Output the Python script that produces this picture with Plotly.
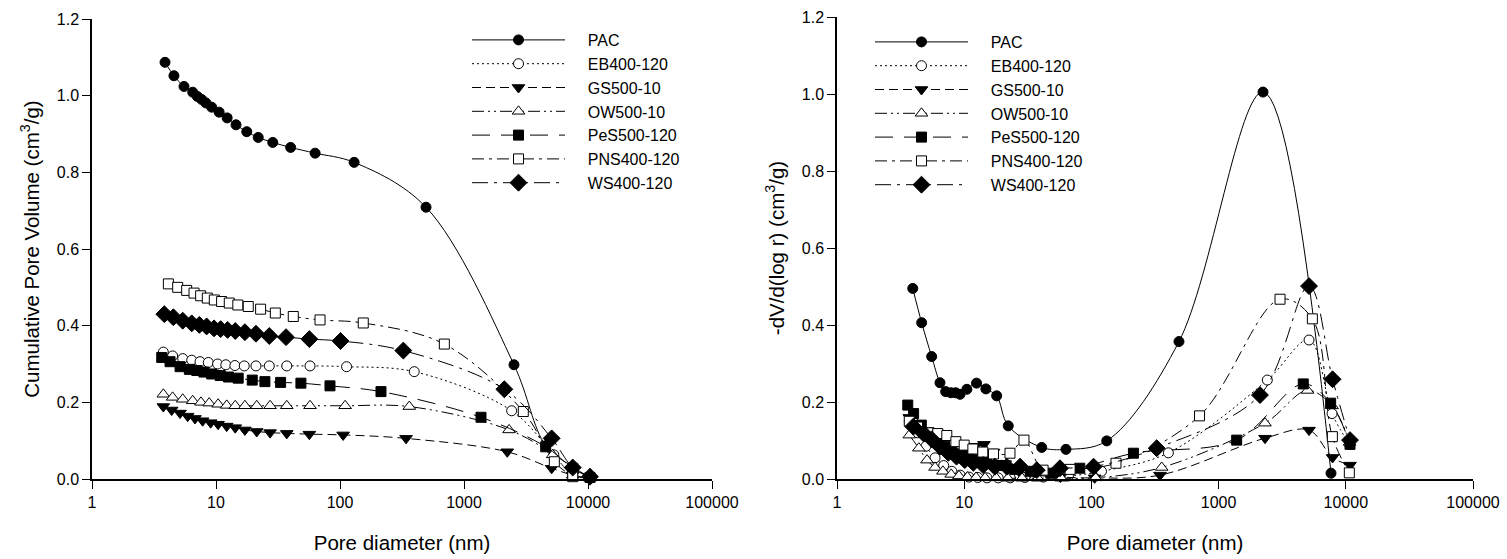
import plotly.graph_objects as go

# ---------------- data: cumulative pore volume (left panel) ----------------
series_names = ["PAC", "EB400-120", "GS500-10", "OW500-10", "PeS500-120", "PNS400-120", "WS400-120"]

pac_cum_x = [3.88, 4.58, 5.52, 6.49, 7.07, 7.67, 8.30, 9.23, 10.6, 12.3, 14.5, 17.7, 21.9, 28.7, 40, 63, 130, 494, 2530, 4560, 7530, 10380]
pac_cum_y = [1.087, 1.052, 1.024, 1.009, 0.998, 0.990, 0.981, 0.970, 0.957, 0.942, 0.924, 0.906, 0.891, 0.878, 0.865, 0.850, 0.826, 0.709, 0.298, 0.087, 0.032, 0.004]

eb_cum_x = [3.76, 4.47, 5.39, 6.37, 7.43, 8.67, 10.3, 12.0, 14.2, 16.9, 21.0, 26.9, 37.2, 57.3, 113, 397, 2422, 5300, 7530, 10380]
eb_cum_y = [0.331, 0.321, 0.314, 0.310, 0.306, 0.304, 0.300, 0.298, 0.296, 0.295, 0.295, 0.295, 0.295, 0.295, 0.293, 0.280, 0.178, 0.063, 0.010, 0.002]

gs_cum_x = [3.76, 4.39, 5.13, 5.91, 6.77, 7.80, 9.05, 10.4, 12.2, 14.3, 17.1, 21.3, 27.3, 37.2, 56.6, 106, 341, 2233, 5093, 7530, 10380]
gs_cum_y = [0.189, 0.180, 0.172, 0.164, 0.158, 0.152, 0.147, 0.143, 0.138, 0.134, 0.128, 0.124, 0.121, 0.119, 0.117, 0.115, 0.106, 0.071, 0.028, 0.010, 0.002]

ow_cum_x = [3.76, 4.47, 5.39, 6.49, 7.56, 8.81, 10.4, 12.2, 14.3, 17.1, 21.3, 27.3, 37.2, 57.3, 110, 362, 2307, 5190, 7530, 10380]
ow_cum_y = [0.221, 0.213, 0.208, 0.204, 0.200, 0.198, 0.195, 0.192, 0.191, 0.191, 0.191, 0.191, 0.191, 0.191, 0.191, 0.189, 0.128, 0.063, 0.010, 0.002]

pes_cum_x = [3.65, 4.26, 5.13, 6.10, 6.99, 8.00, 9.23, 10.8, 12.6, 15.1, 19.6, 24.8, 33.2, 48.4, 83, 214, 1371, 4560, 7530, 10380]
pes_cum_y = [0.317, 0.306, 0.293, 0.286, 0.283, 0.279, 0.274, 0.270, 0.266, 0.263, 0.258, 0.254, 0.252, 0.250, 0.243, 0.228, 0.161, 0.084, 0.028, 0.004]

pns_cum_x = [4.13, 4.91, 5.80, 6.65, 7.52, 8.51, 9.69, 11.1, 12.8, 15.0, 18.2, 22.9, 30.1, 42.0, 69, 154, 694, 3007, 5350, 7530]
pns_cum_y = [0.509, 0.500, 0.492, 0.485, 0.478, 0.472, 0.467, 0.463, 0.459, 0.454, 0.450, 0.443, 0.433, 0.424, 0.415, 0.407, 0.352, 0.176, 0.045, 0.006]

ws_cum_x = [3.83, 4.53, 5.39, 6.37, 7.34, 8.40, 9.64, 10.9, 12.4, 14.3, 17.1, 21.0, 26.9, 36.7, 56.6, 101, 324, 2115, 5093, 7530, 10380]
ws_cum_y = [0.430, 0.422, 0.413, 0.406, 0.402, 0.398, 0.393, 0.391, 0.389, 0.386, 0.383, 0.379, 0.373, 0.370, 0.365, 0.360, 0.335, 0.234, 0.106, 0.030, 0.006]

# ---------------- data: pore size distribution (right panel) ----------------
pac_psd_x = [3.94, 4.63, 5.55, 6.45, 7.15, 7.87, 8.57, 9.27, 10.5, 12.5, 14.8, 18.0, 22.2, 40.7, 63.1, 132, 488, 2234, 7650]
pac_psd_y = [0.495, 0.406, 0.318, 0.250, 0.227, 0.224, 0.224, 0.220, 0.233, 0.249, 0.234, 0.216, 0.138, 0.082, 0.077, 0.099, 0.357, 1.005, 0.015]

eb_psd_x = [3.7, 4.3, 5.0, 5.9, 6.9, 8.0, 9.3, 10.9, 12.8, 15.1, 18.5, 23, 30, 42, 66, 120, 403, 2415, 5140, 7800, 10700]
eb_psd_y = [0.150, 0.120, 0.085, 0.055, 0.035, 0.020, 0.010, 0.005, 0.004, 0.003, 0.003, 0.003, 0.004, 0.005, 0.008, 0.020, 0.068, 0.257, 0.361, 0.170, 0.090]

gs_psd_x = [3.7, 4.4, 5.1, 5.9, 6.8, 7.8, 9.0, 10.4, 12.2, 14.3, 17.0, 21.0, 27.0, 37.0, 57.0, 106, 346, 2317, 5140, 7870, 10790]
gs_psd_y = [0.160, 0.130, 0.110, 0.090, 0.080, 0.075, 0.070, 0.075, 0.085, 0.090, 0.070, 0.040, 0.020, 0.010, 0.005, 0.003, 0.010, 0.106, 0.127, 0.056, 0.036]

ow_psd_x = [3.7, 4.4, 5.1, 5.9, 6.8, 7.9, 9.1, 10.6, 12.4, 14.6, 17.8, 22, 28.5, 38, 58, 108, 357, 2317, 5000, 7800, 10700]
ow_psd_y = [0.114, 0.080, 0.049, 0.030, 0.020, 0.012, 0.008, 0.005, 0.004, 0.003, 0.003, 0.002, 0.002, 0.002, 0.002, 0.003, 0.030, 0.145, 0.230, 0.190, 0.095]

pes_psd_x = [3.6, 4.0, 4.6, 5.3, 6.1, 7.0, 8.0, 9.2, 10.8, 12.6, 15.0, 19.6, 25, 33, 48, 81, 214, 1387, 4630, 7600, 10790]
pes_psd_y = [0.192, 0.170, 0.140, 0.120, 0.100, 0.085, 0.075, 0.065, 0.060, 0.050, 0.045, 0.035, 0.025, 0.020, 0.015, 0.028, 0.067, 0.101, 0.247, 0.197, 0.090]

pns_psd_x = [3.7, 4.3, 5.2, 6.2, 7.3, 8.6, 10.0, 11.7, 14.0, 17.0, 22.9, 29.5, 41.7, 68, 156, 708, 3040, 5460, 7840, 10660]
pns_psd_y = [0.150, 0.135, 0.120, 0.118, 0.113, 0.097, 0.088, 0.078, 0.070, 0.065, 0.067, 0.101, 0.023, 0.025, 0.041, 0.164, 0.467, 0.416, 0.110, 0.016]

ws_psd_x = [3.98, 4.77, 5.55, 6.45, 7.5, 8.7, 10.1, 11.8, 14.1, 17.4, 21.6, 27.5, 37.2, 56.6, 104, 326, 2115, 5140, 7870, 10790]
ws_psd_y = [0.136, 0.119, 0.103, 0.084, 0.068, 0.058, 0.049, 0.042, 0.036, 0.032, 0.032, 0.032, 0.023, 0.028, 0.032, 0.080, 0.218, 0.501, 0.259, 0.101]

x_tick_vals = [1, 10, 100, 1000, 10000, 100000]
x_tick_text = ["1", "10", "100", "1000", "10000", "100000"]
y_tick_vals = [0.0, 0.2, 0.4, 0.6, 0.8, 1.0, 1.2]
y_tick_text = ["0.0", "0.2", "0.4", "0.6", "0.8", "1.0", "1.2"]

# ---------------- styles ----------------
FONT = "Liberation Sans, Arial, sans-serif"
styles = [
    dict(dash="solid", symbol="circle", fill="black", size=10),
    dict(dash="2px,3px", symbol="circle", fill="white", size=10),
    dict(dash="9px,5px", symbol="triangle-down", fill="black", size=11),
    dict(dash="12px,4px,2px,4px,2px,4px", symbol="triangle-up", fill="white", size=11),
    dict(dash="18px,11px", symbol="square", fill="black", size=10),
    dict(dash="12px,5px,3px,5px", symbol="square", fill="white", size=10),
    dict(dash="16px,6px,3px,6px", symbol="diamond", fill="black", size=13),
]

cum_data = [(pac_cum_x, pac_cum_y), (eb_cum_x, eb_cum_y), (gs_cum_x, gs_cum_y), (ow_cum_x, ow_cum_y),
            (pes_cum_x, pes_cum_y), (pns_cum_x, pns_cum_y), (ws_cum_x, ws_cum_y)]
psd_data = [(pac_psd_x, pac_psd_y), (eb_psd_x, eb_psd_y), (gs_psd_x, gs_psd_y), (ow_psd_x, ow_psd_y),
            (pes_psd_x, pes_psd_y), (pns_psd_x, pns_psd_y), (ws_psd_x, ws_psd_y)]

fig = go.Figure()
NB = "\u00a0" * 4

for panel, data, xa, ya, leg in [("L", cum_data, "x", "y", "legend"), ("R", psd_data, "x2", "y2", "legend2")]:
    for i, (name, (xs, ys), st) in enumerate(zip(series_names, data, styles)):
        fig.add_trace(go.Scatter(
            x=xs, y=ys, mode="lines+markers", name=NB + name,
            xaxis=xa, yaxis=ya, legend=leg, legendgroup=panel + str(i),
            line=dict(color="black", width=1, dash=st["dash"], shape="spline", smoothing=1.0),
            marker=dict(symbol=st["symbol"], size=st["size"], color=st["fill"],
                        line=dict(color="black", width=1)),
            cliponaxis=False,
        ))

W, H = 1507, 559
def px_x(p):
    return p / W
def px_y(p):
    return (H - p) / H

axis_common = dict(
    showgrid=False, zeroline=False, showline=True, linecolor="black", linewidth=1.5,
    ticks="outside", ticklen=8, tickwidth=1, tickcolor="black",
    tickfont=dict(family=FONT, size=16, color="black"),
    mirror=False,
)

fig.update_layout(
    width=W, height=H,
    margin=dict(l=0, r=0, t=0, b=0, autoexpand=False),
    paper_bgcolor="white", plot_bgcolor="white",
    font=dict(family=FONT, color="black"),
    xaxis=dict(type="log", range=[0, 5], domain=[px_x(92), px_x(712)], anchor="y",
               tickvals=x_tick_vals, ticktext=x_tick_text,
               title=dict(text="Pore diameter (nm)", font=dict(family=FONT, size=20.5), standoff=26),
               **axis_common),
    yaxis=dict(range=[0, 1.2], domain=[px_y(479), px_y(19)], anchor="x",
               tickvals=y_tick_vals, ticktext=y_tick_text,
               title=dict(text="Cumulative Pore Volume (cm<sup>3</sup>/g)", font=dict(family=FONT, size=20.5), standoff=12),
               **axis_common),
    xaxis2=dict(type="log", range=[0, 5], domain=[px_x(837), px_x(1473)], anchor="y2",
                tickvals=x_tick_vals, ticktext=x_tick_text,
                title=dict(text="Pore diameter (nm)", font=dict(family=FONT, size=20.5), standoff=26),
                **axis_common),
    yaxis2=dict(range=[0, 1.2], domain=[px_y(479), px_y(17)], anchor="x2",
                tickvals=y_tick_vals, ticktext=y_tick_text,
                title=dict(text="-dV/d(log r) (cm<sup>3</sup>/g)", font=dict(family=FONT, size=20.5), standoff=12),
                **axis_common),
    legend=dict(x=px_x(467), y=px_y(23), xanchor="left", yanchor="top",
                bgcolor="rgba(0,0,0,0)", borderwidth=0, itemwidth=93,
                tracegroupgap=0, font=dict(family=FONT, size=16, color="black")),
    legend2=dict(x=px_x(870), y=px_y(25), xanchor="left", yanchor="top",
                 bgcolor="rgba(0,0,0,0)", borderwidth=0, itemwidth=93,
                 tracegroupgap=0, font=dict(family=FONT, size=16, color="black")),
    showlegend=True,
)

fig.write_html("out.html")
